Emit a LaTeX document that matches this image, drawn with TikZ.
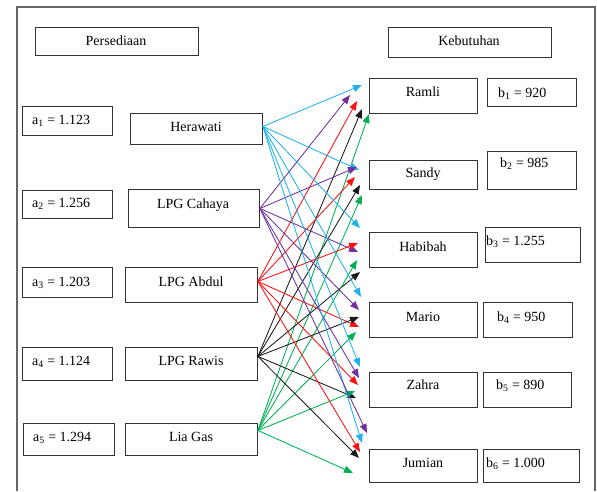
\documentclass[tikz,border=0pt]{standalone}
\usepackage{fontspec}
\setmainfont{Liberation Serif}
\usetikzlibrary{arrows.meta,calc}
\definecolor{cy}{HTML}{1FB2EC}
\definecolor{pu}{HTML}{7030A0}
\definecolor{rd}{HTML}{FF1010}
\definecolor{gr}{HTML}{00B050}
\definecolor{bk}{HTML}{1A1A1A}
\begin{document}
\begin{tikzpicture}[x=1pt,y=-1pt,
  box/.style={draw=black!80,line width=0.9pt,rectangle,inner sep=0pt,anchor=north west},
  lbl/.style={inner sep=0pt,anchor=base,font=\fontsize{14}{16}\selectfont},
  lblw/.style={lbl,anchor=base west},
  ar/.style={line width=0.85pt,-{Triangle[length=9pt,width=7pt]}}]
\useasboundingbox (0,0) rectangle (597,491);
\draw[black!60,line width=1.1pt] (17,491) -- (17,7) -- (595,7) -- (595,491);
% headers
\node[box,minimum width=163pt,minimum height=28pt] (pers) at (35,27) {};
\node[lbl] (pers-t) at (116,45) {Persediaan};
\node[box,minimum width=163pt,minimum height=30pt] (keb) at (388,27) {};
\node[lbl] (keb-t) at (469,45) {Kebutuhan};
% supply values
\node[box,minimum width=90pt,minimum height=29pt] (a1) at (22,106) {};
\node[lblw] (a1-t) at (32,124) {a\textsubscript{1} = 1.123};
\node[box,minimum width=90pt,minimum height=28pt] (a2) at (22,190) {};
\node[lblw] (a2-t) at (32,207) {a\textsubscript{2} = 1.256};
\node[box,minimum width=90pt,minimum height=30pt] (a3) at (22,267) {};
\node[lblw] (a3-t) at (32,286) {a\textsubscript{3} = 1.203};
\node[box,minimum width=90pt,minimum height=33pt] (a4) at (22,347) {};
\node[lblw] (a4-t) at (32,365) {a\textsubscript{4} = 1.124};
\node[box,minimum width=91pt,minimum height=32pt] (a5) at (23,423) {};
\node[lblw] (a5-t) at (33,441) {a\textsubscript{5} = 1.294};
% sources
\node[box,minimum width=132pt,minimum height=31pt] (her) at (130,113) {};
\node[lbl] (her-t) at (196,131) {Herawati};
\node[box,minimum width=131pt,minimum height=38pt] (cah) at (128,189) {};
\node[lbl] (cah-t) at (193,208) {LPG Cahaya};
\node[box,minimum width=132pt,minimum height=35pt] (abd) at (125,267) {};
\node[lbl] (abd-t) at (191,286) {LPG Abdul};
\node[box,minimum width=132pt,minimum height=33pt] (raw) at (125,347) {};
\node[lbl] (raw-t) at (191,365) {LPG Rawis};
\node[box,minimum width=132pt,minimum height=32pt] (lia) at (125,423) {};
\node[lbl] (lia-t) at (191,441) {Lia Gas};
% destinations
\node[box,minimum width=108pt,minimum height=35pt] (ram) at (369,78) {};
\node[lbl] (ram-t) at (423,96) {Ramli};
\node[box,minimum width=108pt,minimum height=29pt] (san) at (369,160) {};
\node[lbl] (san-t) at (423,177) {Sandy};
\node[box,minimum width=108pt,minimum height=35pt] (hab) at (369,232) {};
\node[lbl] (hab-t) at (423,251) {Habibah};
\node[box,minimum width=108pt,minimum height=35pt] (mar) at (369,302) {};
\node[lbl] (mar-t) at (423,321) {Mario};
\node[box,minimum width=108pt,minimum height=35pt] (zah) at (369,372) {};
\node[lbl] (zah-t) at (423,389) {Zahra};
\node[box,minimum width=108pt,minimum height=33pt] (jum) at (369,449) {};
\node[lbl] (jum-t) at (423,467) {Jumian};
% demand values
\node[box,minimum width=89pt,minimum height=28pt] (b1) at (487,78) {};
\node[lblw] (b1-t) at (498,97) {b\textsubscript{1} = 920};
\node[box,minimum width=89pt,minimum height=38pt] (b2) at (487,151) {};
\node[lblw] (b2-t) at (500,167) {b\textsubscript{2} = 985};
\node[box,minimum width=95pt,minimum height=35pt] (b3) at (485,227) {};
\node[lblw] (b3-t) at (486,245) {b\textsubscript{3} = 1.255};
\node[box,minimum width=89pt,minimum height=35pt] (b4) at (483,302) {};
\node[lblw] (b4-t) at (497,321) {b\textsubscript{4} = 950};
\node[box,minimum width=88pt,minimum height=35pt] (b5) at (483,372) {};
\node[lblw] (b5-t) at (496,389) {b\textsubscript{5} = 890};
\node[box,minimum width=96pt,minimum height=33pt] (b6) at (483,449) {};
\node[lblw] (b6-t) at (486,467) {b\textsubscript{6} = 1.000};
% source points
\coordinate (s1) at ([yshift=2.5pt]her.east);
\coordinate (s2) at (cah.east);
\coordinate (s3) at ([yshift=3.5pt]abd.east);
\coordinate (s4) at ([yshift=7.5pt]raw.east);
\coordinate (s5) at ([yshift=9pt]lia.east);
% target points
\foreach \x/\y [count=\i] in {362/85,359/170,360/228,361/297,360/367,362/443}
  \coordinate (tc\i) at (\x,\y);
\foreach \x/\y [count=\i] in {350/95,357/167,358/252,359/310,359/378,367/433}
  \coordinate (tp\i) at (\x,\y);
\foreach \x/\y [count=\i] in {357/101,355/177,358/243,359/327,358/385,360/452}
  \coordinate (tr\i) at (\x,\y);
\foreach \x/\y [count=\i] in {362/109,360/185,360/272,359/317,356/398,359/458}
  \coordinate (tk\i) at (\x,\y);
\foreach \x/\y [count=\i] in {369/114,362/195,357/260,356/332,355/391,353/473}
  \coordinate (tg\i) at (\x,\y);
% connectors
\foreach \i in {1,...,6} {
  \draw[ar,cy] (s1) -- (tc\i);
  \draw[ar,pu] (s2) -- (tp\i);
  \draw[ar,rd] (s3) -- (tr\i);
  \draw[ar,bk] (s4) -- (tk\i);
  \draw[ar,gr] (s5) -- (tg\i);
}
\end{tikzpicture}
\end{document}
